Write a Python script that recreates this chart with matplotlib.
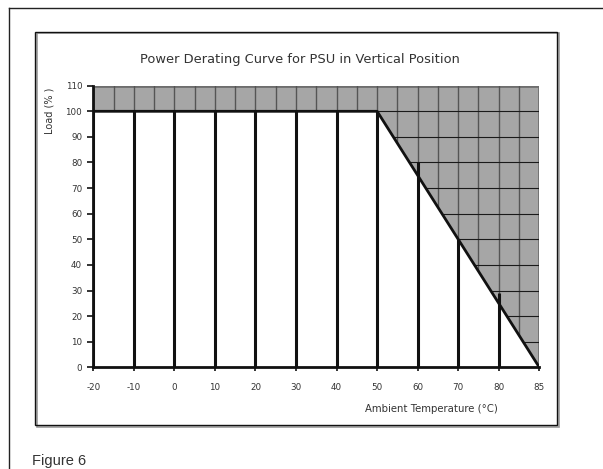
import matplotlib
matplotlib.use("Agg")
import matplotlib.pyplot as plt
from matplotlib.patches import Rectangle
from matplotlib.lines import Line2D
import numpy as np

plt.rcParams['font.family'] = ['DejaVu Sans']

# ---- data ----
temps = ['-20', '-10', '0', '10', '20', '30', '40', '50', '60', '70', '80', '85']
load_curve = [100, 100, 100, 100, 100, 100, 100, 100, 75, 50, 25, 0]
drop_heights = [100, 100, 100, 100, 100, 100, 100, 100, 80, 50, 29, 0]
y_ticks = [0, 10, 20, 30, 40, 50, 60, 70, 80, 90, 100, 110]

title = "Power Derating Curve for PSU in Vertical Position"
xlabel = "Ambient Temperature (°C)"
ylabel = "Load (% )"
caption = "Figure 6"

W, H = 603, 469
fig = plt.figure(figsize=(W / 100, H / 100), dpi=100)
fig.patch.set_facecolor('white')

def fx(px):
    return px / W

def fy(py):
    return 1 - py / H

# outer page frame (top and left)
fig.add_artist(Line2D([fx(9), 1.0], [fy(8.5), fy(8.5)], color='#222222', lw=1.0,
                      transform=fig.transFigure))
fig.add_artist(Line2D([fx(9), fx(9)], [fy(8.5), 0.0], color='#222222', lw=1.0,
                      transform=fig.transFigure))

# chart frame with slight shadow
fig.add_artist(Rectangle((fx(36.5), fy(426.5)), fx(557.5) - fx(35), fy(33) - fy(426.5),
                         transform=fig.transFigure, fill=False, edgecolor='#9a9a9a', lw=1.2))
fig.add_artist(Rectangle((fx(35), fy(425)), fx(556.5) - fx(35), fy(32) - fy(425),
                         transform=fig.transFigure, fill=False, edgecolor='#111111', lw=1.0))

ax_left, ax_right = 93.3, 539.3
ax_top, ax_bottom = 85.7, 367.3
ax = fig.add_axes([fx(ax_left), fy(ax_bottom), fx(ax_right) - fx(ax_left), fy(ax_top) - fy(ax_bottom)])
ax.set_facecolor('none')

n = len(temps)
xpos = np.arange(n)
ax.set_xlim(0, n - 1)
ax.set_ylim(0, 110)

# gray plot area
ax.add_patch(Rectangle((0, 0), n - 1, 110, facecolor='#a6a6a6', edgecolor='#6e6e6e', lw=2.0, zorder=0))
# grid: vertical every half category, horizontal every 10
for xv in np.arange(0.5, n - 1, 0.5):
    ax.axvline(xv, color='#555555', lw=1.0, zorder=1)
for yv in y_ticks[1:-1]:
    ax.axhline(yv, color='#1a1a1a', lw=0.8, zorder=1)

# white area under the curve
ax.fill_between(xpos, load_curve, 0, facecolor='white', edgecolor='none', zorder=2)
# curve
ax.plot(xpos, load_curve, color='#111111', lw=2.0, zorder=4, solid_capstyle='butt')
# drop lines
ax.vlines(xpos, 0, drop_heights, color='#111111', lw=2.2, zorder=4)

# axes styling
for s in ['top', 'right']:
    ax.spines[s].set_visible(False)
for s in ['left', 'bottom']:
    ax.spines[s].set_color('#111111')
    ax.spines[s].set_linewidth(2.0)
    ax.spines[s].set_zorder(5)

ax.set_xticks(xpos)
ax.set_xticklabels(temps)
ax.set_yticks(y_ticks)
ax.set_yticklabels([str(v) for v in y_ticks])
ax.tick_params(axis='x', direction='out', length=3, width=1.2, color='#111111',
               labelsize=6.3, labelcolor='#333333', pad=8)
ax.tick_params(axis='y', direction='out', length=4, width=1.2, color='#111111',
               labelsize=6.3, labelcolor='#333333', pad=4)

# texts
fig.text(fx(300), fy(59.6), title, ha='center', va='center', fontsize=9.4, color='#333333')
fig.text(fx(431.5), fy(409), xlabel, ha='center', va='center', fontsize=7.3, color='#333333')
fig.text(fx(50), fy(111), ylabel, ha='center', va='center', rotation=90, fontsize=7.0, color='#333333')
fig.text(fx(32), fy(461), caption, ha='left', va='center', fontsize=10.5, color='#333333',
         family=['Liberation Sans', 'DejaVu Sans'])

fig.savefig('out.png', dpi=100, facecolor='white')
